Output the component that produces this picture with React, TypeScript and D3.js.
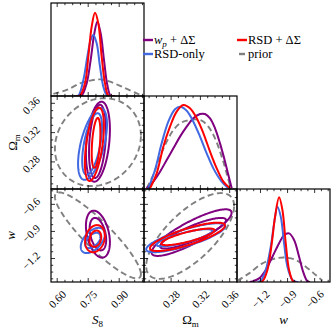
import React, { useRef, useEffect } from 'react';
import * as d3 from 'd3';

// --- layout of the corner grid ---
const LEFT = 51;
const TOP = 3;
const PANEL = 93;

// --- parameter ranges and ticks ---
const S8_DOMAIN = [0.57, 1.02];
const OM_DOMAIN = [0.243, 0.37];
const W_DOMAIN = [-1.46, -0.43];
const S8_TICKS = [0.6, 0.75, 0.9];
const OM_TICKS = [0.28, 0.32, 0.36];
const W_TICKS = [-1.2, -0.9, -0.6];
const S8_MINOR_STEP = 0.0375;
const OM_MINOR_STEP = 0.01;
const W_MINOR_STEP = 0.075;

// --- 1D marginals: [value, normalised density] ---
const S8_WP = [[0.70, 0], [0.7184, 0.004], [0.7426, 0.136], [0.7619, 0.387], [0.7797, 0.674], [0.7942, 0.799], [0.8103, 0.674], [0.8265, 0.387], [0.8426, 0.118], [0.8587, 0.004], [0.88, 0]];
const S8_RSD = [[0.69, 0], [0.7103, 0.004], [0.7345, 0.136], [0.7506, 0.423], [0.7668, 0.746], [0.7829, 0.896], [0.799, 0.781], [0.8152, 0.423], [0.8313, 0.136], [0.8474, 0.004], [0.87, 0]];
const S8_RSDONLY = [[0.68, 0], [0.7023, 0.004], [0.7265, 0.172], [0.7458, 0.423], [0.7619, 0.602], [0.7748, 0.656], [0.791, 0.566], [0.8071, 0.315], [0.8232, 0.1], [0.8394, 0.011], [0.86, 0]];
const S8_PRIOR = [[0.5813, 0.022], [0.6458, 0.065], [0.7103, 0.136], [0.7587, 0.165], [0.8071, 0.179], [0.8555, 0.154], [0.92, 0.093], [0.9845, 0.029], [1.0168, 0.004]];

const OM_WP = [[0.2466, 0.007], [0.2557, 0.079], [0.2649, 0.186], [0.274, 0.312], [0.2831, 0.437], [0.2922, 0.563], [0.3013, 0.67], [0.3104, 0.76], [0.3195, 0.806], [0.3263, 0.806], [0.3332, 0.76], [0.34, 0.652], [0.3468, 0.491], [0.3537, 0.294], [0.3582, 0.151], [0.3628, 0.007]];
const OM_RSD = [[0.2512, 0.007], [0.2603, 0.168], [0.2694, 0.455], [0.2785, 0.67], [0.2876, 0.832], [0.2967, 0.903], [0.3058, 0.867], [0.315, 0.76], [0.3241, 0.599], [0.3332, 0.401], [0.3423, 0.222], [0.3514, 0.079], [0.3605, 0.007]];
const OM_RSDONLY = [[0.2489, 0.007], [0.258, 0.204], [0.2671, 0.491], [0.2762, 0.724], [0.2853, 0.857], [0.2922, 0.885], [0.3013, 0.842], [0.3104, 0.724], [0.3195, 0.563], [0.3286, 0.384], [0.3377, 0.222], [0.3491, 0.079], [0.3582, 0.007]];
const OM_PRIOR = [[0.2466, 0.007], [0.2557, 0.151], [0.2649, 0.348], [0.274, 0.509], [0.2831, 0.634], [0.2922, 0.706], [0.3013, 0.735], [0.3127, 0.749], [0.3218, 0.735], [0.3309, 0.67], [0.34, 0.545], [0.3491, 0.348], [0.3559, 0.168], [0.3614, 0.007]];

const W_WP = [[-1.32, 0], [-1.2891, 0.007], [-1.2153, 0.039], [-1.1415, 0.129], [-1.0676, 0.272], [-0.9938, 0.416], [-0.9385, 0.505], [-0.8831, 0.523], [-0.8277, 0.452], [-0.7723, 0.272], [-0.728, 0.111], [-0.68, 0.007], [-0.65, 0]];
const W_RSD = [[-1.21, 0], [-1.1784, 0.007], [-1.123, 0.129], [-1.075, 0.416], [-1.0381, 0.703], [-0.9938, 0.91], [-0.9569, 0.774], [-0.92, 0.416], [-0.8831, 0.129], [-0.8388, 0.007], [-0.81, 0]];
const W_RSDONLY = [[-1.23, 0], [-1.1968, 0.014], [-1.1415, 0.129], [-1.0861, 0.38], [-1.0492, 0.631], [-1.0123, 0.81], [-0.9754, 0.703], [-0.9385, 0.416], [-0.9015, 0.165], [-0.8462, 0.022], [-0.8092, 0.004], [-0.78, 0]];
const W_PRIOR = [[-1.4552, 0.014], [-1.326, 0.093], [-1.1784, 0.201], [-1.0307, 0.254], [-0.92, 0.262], [-0.8092, 0.237], [-0.6985, 0.165], [-0.5877, 0.075], [-0.5139, 0.014]];

// --- 2D contours: [centre x, centre y, half-width x, half-width y, correlation], 95% then 68% ---
const S8_OM_WP = [[0.797, 0.3076, 0.058, 0.0546, 0.3], [0.795, 0.308, 0.041, 0.05, 0.3]];
const S8_OM_RSDONLY = [[0.771, 0.3045, 0.07, 0.049, 0.55], [0.769, 0.3045, 0.048, 0.042, 0.55]];
const S8_OM_RSD = [[0.78, 0.304, 0.046, 0.05, 0.5], [0.788, 0.306, 0.021, 0.034, 0.4]];
const S8_OM_PRIOR = [[0.797, 0.307, 0.208, 0.06, 0.15]];

const S8_W_WP = [[0.797, -0.93, 0.058, 0.26, -0.35], [0.797, -0.93, 0.04, 0.18, -0.35]];
const S8_W_RSDONLY = [[0.772, -1.0, 0.058, 0.14, 0.5], [0.772, -1.0, 0.037, 0.085, 0.5]];
const S8_W_RSD = [[0.783, -0.98, 0.048, 0.15, 0.2], [0.785, -0.98, 0.028, 0.09, 0.2]];
const S8_W_PRIOR = [[0.797, -0.944, 0.208, 0.476, -0.9]];

const OM_W_WP = [[0.308, -0.913, 0.0546, 0.258, 0.85], [0.31, -0.92, 0.045, 0.17, 0.85]];
const OM_W_RSDONLY = [[0.3, -0.97, 0.054, 0.16, 0.8], [0.298, -0.97, 0.038, 0.095, 0.8]];
const OM_W_RSD = [[0.3024, -0.96, 0.0512, 0.157, 0.8], [0.303, -0.96, 0.0364, 0.092, 0.8]];
const OM_W_PRIOR = [[0.306, -0.95, 0.06, 0.475, 0.7]];

const COLORS = { wp: '#800080', rsd: '#ff0000', rsdonly: '#4169e1', prior: '#808080' };
const FONT = '"Liberation Serif", "DejaVu Serif", serif';

const App = () => {
  const svgRef = useRef(null);

  useEffect(() => {
    const svg = d3.select(svgRef.current).html('');

    const params = [
      { domain: S8_DOMAIN, ticks: S8_TICKS, minor: S8_MINOR_STEP, fmt: d3.format('.2f') },
      { domain: OM_DOMAIN, ticks: OM_TICKS, minor: OM_MINOR_STEP, fmt: d3.format('.2f') },
      { domain: W_DOMAIN, ticks: W_TICKS, minor: W_MINOR_STEP, fmt: (v) => d3.format('.1f')(v).replace('-', '\u2212') },
    ];
    const xScale = (c) => d3.scaleLinear().domain(params[c].domain).range([LEFT + c * PANEL, LEFT + (c + 1) * PANEL]);
    const yScale = (r) => d3.scaleLinear().domain(params[r].domain).range([TOP + (r + 1) * PANEL, TOP + r * PANEL]);

    const minorTicks = (p) => {
      const start = Math.ceil(p.domain[0] / p.minor) * p.minor;
      return d3.range(start, p.domain[1], p.minor).filter((v) => !p.ticks.some((t) => Math.abs(t - v) < 1e-6));
    };

    const hist = { 0: [S8_WP, S8_RSDONLY, S8_RSD, S8_PRIOR], 1: [OM_WP, OM_RSDONLY, OM_RSD, OM_PRIOR], 2: [W_WP, W_RSDONLY, W_RSD, W_PRIOR] };
    const contours = {
      '1-0': [S8_OM_WP, S8_OM_RSDONLY, S8_OM_RSD, S8_OM_PRIOR],
      '2-0': [S8_W_WP, S8_W_RSDONLY, S8_W_RSD, S8_W_PRIOR],
      '2-1': [OM_W_WP, OM_W_RSDONLY, OM_W_RSD, OM_W_PRIOR],
    };
    const seriesColor = [COLORS.wp, COLORS.rsdonly, COLORS.rsd, COLORS.prior];

    const defs = svg.append('defs');

    const styleLine = (sel, i) => {
      sel.attr('fill', 'none').attr('stroke', seriesColor[i]).attr('stroke-width', i === 3 ? 1.9 : 2)
        .attr('stroke-linejoin', 'round');
      if (i === 3) sel.attr('stroke-dasharray', '6 3.5');
    };

    for (let r = 0; r < 3; r++) {
      for (let c = 0; c <= r; c++) {
        const x = xScale(c);
        const x0 = LEFT + c * PANEL;
        const y0 = TOP + r * PANEL;
        const id = `clip-${r}-${c}`;
        defs.append('clipPath').attr('id', id).append('rect')
          .attr('x', x0).attr('y', y0).attr('width', PANEL).attr('height', PANEL);
        const g = svg.append('g').attr('clip-path', `url(#${id})`);

        if (r === c) {
          const y = d3.scaleLinear().domain([0, 1]).range([y0 + PANEL, y0]);
          const line = d3.line().x((d) => x(d[0])).y((d) => y(d[1])).curve(d3.curveCatmullRom.alpha(0.5));
          [3, 0, 1, 2].forEach((i) => {
            g.append('path').attr('d', line(hist[r][i])).call(styleLine, i);
          });
        } else {
          const y = yScale(r);
          const ellipse = (e) => {
            const [cx, cy, ax, ay, rho] = e;
            const pts = d3.range(0, 2 * Math.PI, Math.PI / 90).map((t) => [
              x(cx + ax * Math.cos(t)),
              y(cy + ay * (rho * Math.cos(t) + Math.sqrt(1 - rho * rho) * Math.sin(t))),
            ]);
            return d3.line().curve(d3.curveLinearClosed)(pts);
          };
          [3, 0, 1, 2].forEach((i) => {
            contours[`${r}-${c}`][i].forEach((e) => {
              g.append('path').attr('d', ellipse(e)).call(styleLine, i);
            });
          });
        }

        // --- ticks (inside, all sides for 2D panels; top/bottom for 1D) ---
        const tg = svg.append('g').attr('stroke', '#000').attr('stroke-width', 0.8);
        const px = params[c];
        const xt = [...px.ticks.map((v) => [v, 4]), ...minorTicks(px).map((v) => [v, 2.2])];
        xt.forEach(([v, len]) => {
          tg.append('line').attr('x1', x(v)).attr('x2', x(v)).attr('y1', y0 + PANEL).attr('y2', y0 + PANEL - len);
          tg.append('line').attr('x1', x(v)).attr('x2', x(v)).attr('y1', y0).attr('y2', y0 + len);
        });
        if (r !== c) {
          const y = yScale(r);
          const py = params[r];
          const yt = [...py.ticks.map((v) => [v, 4]), ...minorTicks(py).map((v) => [v, 2.2])];
          yt.forEach(([v, len]) => {
            tg.append('line').attr('y1', y(v)).attr('y2', y(v)).attr('x1', x0).attr('x2', x0 + len);
            tg.append('line').attr('y1', y(v)).attr('y2', y(v)).attr('x1', x0 + PANEL).attr('x2', x0 + PANEL - len);
          });
        }

        svg.append('rect').attr('x', x0).attr('y', y0).attr('width', PANEL).attr('height', PANEL)
          .attr('fill', 'none').attr('stroke', '#000').attr('stroke-width', 1.2);

        // --- tick labels ---
        if (r === 2) {
          px.ticks.forEach((v) => {
            svg.append('text').attr('transform', `translate(${x(v)},${y0 + PANEL + 17}) rotate(-45)`)
              .attr('text-anchor', 'middle').attr('dominant-baseline', 'central')
              .attr('font-family', FONT).attr('font-size', 11).text(px.fmt(v));
          });
        }
        if (c === 0 && r > 0) {
          const y = yScale(r);
          const py = params[r];
          py.ticks.forEach((v) => {
            svg.append('text').attr('transform', `translate(${x0 - 20},${y(v) + 2}) rotate(-45)`)
              .attr('text-anchor', 'middle').attr('dominant-baseline', 'central')
              .attr('font-family', FONT).attr('font-size', 11).text(py.fmt(v));
          });
        }
      }
    }

    // --- axis labels ---
    const lab = (sel) => sel.attr('font-family', FONT).attr('font-size', 13).attr('text-anchor', 'middle');
    const bottomY = 324;
    const s8 = svg.append('text').attr('x', LEFT + PANEL / 2).attr('y', bottomY).call(lab);
    s8.append('tspan').attr('font-style', 'italic').text('S');
    s8.append('tspan').attr('font-size', 9).attr('dy', 3).text('8');
    const om = svg.append('text').attr('x', LEFT + 1.5 * PANEL).attr('y', bottomY).call(lab);
    om.append('tspan').text('Ω');
    om.append('tspan').attr('font-size', 9).attr('dy', 3).text('m');
    svg.append('text').attr('x', LEFT + 2.5 * PANEL).attr('y', bottomY).call(lab).attr('font-style', 'italic').text('w');

    const omL = svg.append('text').attr('transform', `translate(17,${TOP + 1.5 * PANEL}) rotate(-90)`).call(lab);
    omL.append('tspan').text('Ω');
    omL.append('tspan').attr('font-size', 9).attr('dy', 3).text('m');
    svg.append('text').attr('transform', `translate(15,${TOP + 2.5 * PANEL}) rotate(-90)`).call(lab)
      .attr('font-style', 'italic').text('w');

    // --- legend ---
    const legend = [
      { key: 'wp', col: 0, row: 0 },
      { key: 'rsdonly', col: 0, row: 1 },
      { key: 'rsd', col: 1, row: 0 },
      { key: 'prior', col: 1, row: 1 },
    ];
    legend.forEach(({ key, col, row }) => {
      const lx = 143 + col * 94;
      const ly = 40 + row * 14;
      const ln = svg.append('line').attr('x1', lx).attr('x2', lx + 10).attr('y1', ly).attr('y2', ly)
        .attr('stroke', COLORS[key]).attr('stroke-width', 2.4);
      if (key === 'prior') ln.attr('x1', lx + 2).attr('x2', lx + 8);
      const t = svg.append('text').attr('x', lx + 11).attr('y', ly + 4)
        .attr('font-family', FONT).attr('font-size', 12.5);
      if (key === 'wp') {
        t.append('tspan').attr('font-style', 'italic').text('w');
        t.append('tspan').attr('font-style', 'italic').attr('font-size', 9).attr('dy', 2.5).text('p');
        t.append('tspan').attr('dy', -2.5).text(' + ΔΣ');
      } else if (key === 'rsd') {
        t.text('RSD + ΔΣ');
      } else if (key === 'rsdonly') {
        t.text('RSD-only');
      } else {
        t.text('prior');
      }
    });
  }, []);

  return (
    <svg ref={svgRef} width={333} height={333} style={{ position: 'absolute', left: 0, top: 0, background: '#fff' }} />
  );
};

export default App;
